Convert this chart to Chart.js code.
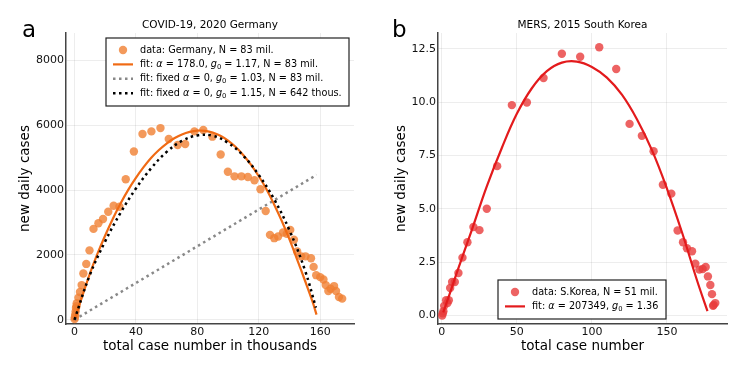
<!DOCTYPE html>
<html>
<head>
<meta charset="utf-8">
<script src="https://cdn.jsdelivr.net/npm/chart.js@4/dist/chart.umd.min.js"></script>
<style>
  body { margin: 0; background: #fff; }
  #wrap { position: relative; width: 747px; height: 374px; }
  canvas { position: absolute; top: 0; }
</style>
</head>
<body>
<div id="wrap">
  <canvas id="g1" width="374" height="374" style="left:0"></canvas>
  <canvas id="g2" width="373" height="374" style="left:374px"></canvas>
</div>
<script>
// ---- panel a: COVID-19 Germany (x in thousands) ----
const deCases = [0.1,0.3,0.5,0.8,1.0,1.3,1.5,2.6,3.6,4.7,5.8,7.7,9.8,12.4,15.6,18.6,22.0,25.5,29.3,33.4,38.7,44.3,50.1,56.0,61.4,67.2,72.1,78.1,83.9,89.8,95.2,99.9,104.2,108.7,112.9,117.2,121.1,124.5,127.3,130.1,132.6,135.8,138.2,140.5,142.9,145.0,147.6,150.4,154.0,155.7,157.4,160.0,162.1,163.6,165.3,166.8,169.0,170.3,172.2,174.3];
const deNew = [20,80,160,260,360,420,510,683,857,1071,1428,1724,2142,2805,2978,3111,3335,3519,3488,4335,5192,5732,5814,5916,5580,5396,5426,5814,5855,5651,5100,4570,4427,4427,4406,4304,4029,3356,2621,2519,2570,2693,2652,2774,2468,2111,1958,1958,1897,1632,1377,1316,1244,1071,887,959,1040,887,704,653];

const deFitX = [0,5,10,15,20,25,30,35,40,45,50,55,60,65,70,75,80,85,90,95,100,105,110,115,120,125,130,135,140,145,150,155,157.6];
const deFitY = [0,720,1420,2040,2600,3120,3590,4010,4380,4710,5000,5240,5440,5600,5720,5800,5840,5830,5780,5680,5530,5330,5080,4780,4430,4030,3560,3050,2480,1860,1220,560,160];

const deFixedSmallX = [0,10,20,30,40,50,60,70,80,90,100,110,120,130,140,150,157.2];
const deFixedSmallY = [0,1380,2420,3300,4050,4680,5180,5520,5690,5680,5460,5060,4470,3720,2760,1540,377];

const deFixedFullX = [0,157.6];
const deFixedFullY = [0,4470];

const deLabels = [
  'data: Germany, N = 83 mil.',
  'fit: $α$ = 178.0, $g_0$ = 1.17, N = 83 mil.',
  'fit: fixed $α$ = 0, $g_0$ = 1.03, N = 83 mil.',
  'fit: fixed $α$ = 0, $g_0$ = 1.15, N = 642 thous.'
];
const deXTicks = [0,40,80,120,160];
const deYTicks = [0,2000,4000,6000,8000];

// ---- panel b: MERS South Korea ----
const krCases = [0.3,0.7,1.1,1.6,2.9,3.8,4.7,5.6,6.9,8.7,11.1,13.8,17.1,21.1,25.1,30.0,36.9,46.7,56.7,67.8,80.0,92.2,104.9,116.2,125.1,133.3,141.1,147.3,152.9,157.1,160.7,163.3,166.7,168.9,171.6,173.8,175.8,177.3,178.9,180.0,180.7,181.1,182.2];
const krNew = [0,0.1,0.2,0.45,0.71,0.58,0.71,1.29,1.57,1.57,1.99,2.71,3.43,4.15,4.0,5.0,7.0,9.86,9.98,11.13,12.27,12.13,12.57,11.55,8.98,8.42,7.70,6.13,5.71,3.98,3.43,3.15,3.01,2.43,2.15,2.18,2.27,1.83,1.43,1.0,0.45,0.49,0.58];

const krFitX = [1,5,10,20,30,40,50,60,70,80,90,100,110,120,130,140,150,160,170,177];
const krFitY = [0.15,0.95,2.0,4.0,6.05,7.85,9.45,10.65,11.45,11.85,11.9,11.65,11.15,10.35,9.2,7.75,5.95,3.9,1.65,0.2];

const krLabels = [
  'data: S.Korea, N = 51 mil.',
  'fit: $α$ = 207349, $g_0$ = 1.36'
];
const krXTicks = [0,50,100,150];
const krYTicks = [0,2.5,5,7.5,10,12.5];

const FONT = '"DejaVu Sans", sans-serif';
const pts = (xs, ys) => xs.map((x, i) => ({x: x, y: ys[i]}));

function drawRich(ctx, str, x, y, size) {
  str.split('$').forEach((p, i) => {
    if (i % 2 === 0) {
      ctx.font = size + 'px ' + FONT;
      ctx.fillText(p, x, y);
      x += ctx.measureText(p).width;
    } else {
      const bits = p.split('_');
      ctx.font = 'italic ' + size + 'px ' + FONT;
      ctx.fillText(bits[0], x, y);
      x += ctx.measureText(bits[0]).width;
      if (bits[1]) {
        ctx.font = (size * 0.7) + 'px ' + FONT;
        ctx.fillText(bits[1], x, y + size * 0.3);
        x += ctx.measureText(bits[1]).width;
      }
    }
  });
}

// title, panel letter and legend box
const deco = {
  id: 'deco',
  afterDraw(chart, args, o) {
    const ctx = chart.ctx, a = chart.chartArea;
    ctx.save();
    ctx.fillStyle = '#000';
    ctx.textBaseline = 'middle';
    ctx.textAlign = 'center';
    ctx.font = '10.5px ' + FONT;
    ctx.fillText(o.title, (a.left + a.right) / 2, 25);
    ctx.textAlign = 'left';
    ctx.textBaseline = 'alphabetic';
    ctx.font = '23px ' + FONT;
    ctx.fillText(o.letter, o.letterX, 37);

    const bx = a.left + o.box[0], by = a.top + o.box[1];
    ctx.fillStyle = '#fff';
    ctx.fillRect(bx, by, o.box[2], o.box[3]);
    ctx.strokeStyle = '#222';
    ctx.lineWidth = 1.2;
    ctx.strokeRect(bx, by, o.box[2], o.box[3]);
    ctx.textBaseline = 'middle';
    o.labels.forEach((lab, i) => {
      const ds = chart.data.datasets[i];
      const ry = by + 12 + i * 14.4;
      if (!ds.showLine) {
        ctx.fillStyle = ds.backgroundColor;
        ctx.beginPath();
        ctx.arc(bx + 17, ry, 4.2, 0, Math.PI * 2);
        ctx.fill();
      } else {
        ctx.strokeStyle = ds.borderColor;
        ctx.lineWidth = ds.borderWidth;
        ctx.setLineDash(ds.borderDash || []);
        ctx.beginPath();
        ctx.moveTo(bx + 7, ry);
        ctx.lineTo(bx + 27, ry);
        ctx.stroke();
        ctx.setLineDash([]);
      }
      ctx.fillStyle = '#000';
      drawRich(ctx, lab, bx + 34, ry, 9.7);
    });
    ctx.restore();
  }
};

function axis(min, max, ticks, title, fit, fmt) {
  return {
    type: 'linear', min: min, max: max,
    afterBuildTicks: s => { s.ticks = ticks.map(v => ({value: v})); },
    afterFit: fit,
    grid: {color: 'rgba(0,0,0,0.07)', drawTicks: false},
    border: {color: '#444', width: 1.5},
    ticks: {color: '#111', font: {family: FONT, size: 11}, padding: 2,
            callback: fmt || (v => String(v))},
    title: {display: true, text: title, color: '#000',
            font: {family: FONT, size: 13.5}, padding: {top: 0, bottom: 0}}
  };
}

new Chart(document.getElementById('g1'), {
  type: 'scatter',
  data: {
    datasets: [
      {label: deLabels[0], data: pts(deCases, deNew), showLine: false, pointRadius: 4.2,
       backgroundColor: 'rgba(240,128,50,0.8)', borderWidth: 0, order: 5},
      {label: deLabels[1], data: pts(deFitX, deFitY), showLine: true, pointRadius: 0,
       borderColor: '#f06a14', borderWidth: 2.2, tension: 0.4, order: 2},
      {label: deLabels[2], data: pts(deFixedFullX, deFixedFullY), showLine: true, pointRadius: 0,
       borderColor: '#888', borderWidth: 2.5, borderDash: [2.5, 3.5], order: 3},
      {label: deLabels[3], data: pts(deFixedSmallX, deFixedSmallY), showLine: true, pointRadius: 0,
       borderColor: '#000', borderWidth: 2.5, borderDash: [2.5, 3.5], tension: 0.4, order: 1}
    ]
  },
  options: {
    responsive: false, animation: false,
    layout: {padding: {left: 17, top: 33, right: 20, bottom: 19}},
    plugins: {legend: {display: false}, tooltip: {enabled: false},
      deco: {title: 'COVID-19, 2020 Germany', letter: 'a', letterX: 22,
             box: [40, 5, 243, 68], labels: deLabels}},
    scales: {
      x: axis(-5.5, 182, deXTicks, 'total case number in thousands', s => { s.height = 31; }),
      y: axis(-130, 8850, deYTicks, 'new daily cases', s => { s.width = 49; })
    }
  },
  plugins: [deco]
});

new Chart(document.getElementById('g2'), {
  type: 'scatter',
  data: {
    datasets: [
      {label: krLabels[0], data: pts(krCases, krNew), showLine: false, pointRadius: 4.2,
       backgroundColor: 'rgba(232,60,60,0.8)', borderWidth: 0, order: 5},
      {label: krLabels[1], data: pts(krFitX, krFitY), showLine: true, pointRadius: 0,
       borderColor: '#e31a1c', borderWidth: 2.2, tension: 0.4, order: 1}
    ]
  },
  options: {
    responsive: false, animation: false,
    layout: {padding: {left: 19, top: 33, right: 20, bottom: 19}},
    plugins: {legend: {display: false}, tooltip: {enabled: false},
      deco: {title: 'MERS, 2015 South Korea', letter: 'b', letterX: 18,
             box: [60, 247, 168, 39], labels: krLabels}},
    scales: {
      x: axis(-2.5, 190, krXTicks, 'total case number', s => { s.height = 31; }),
      y: axis(-0.4, 13.24, krYTicks, 'new daily cases', s => { s.width = 45; }, v => v.toFixed(1))
    }
  },
  plugins: [deco]
});
</script>
</body>
</html>
